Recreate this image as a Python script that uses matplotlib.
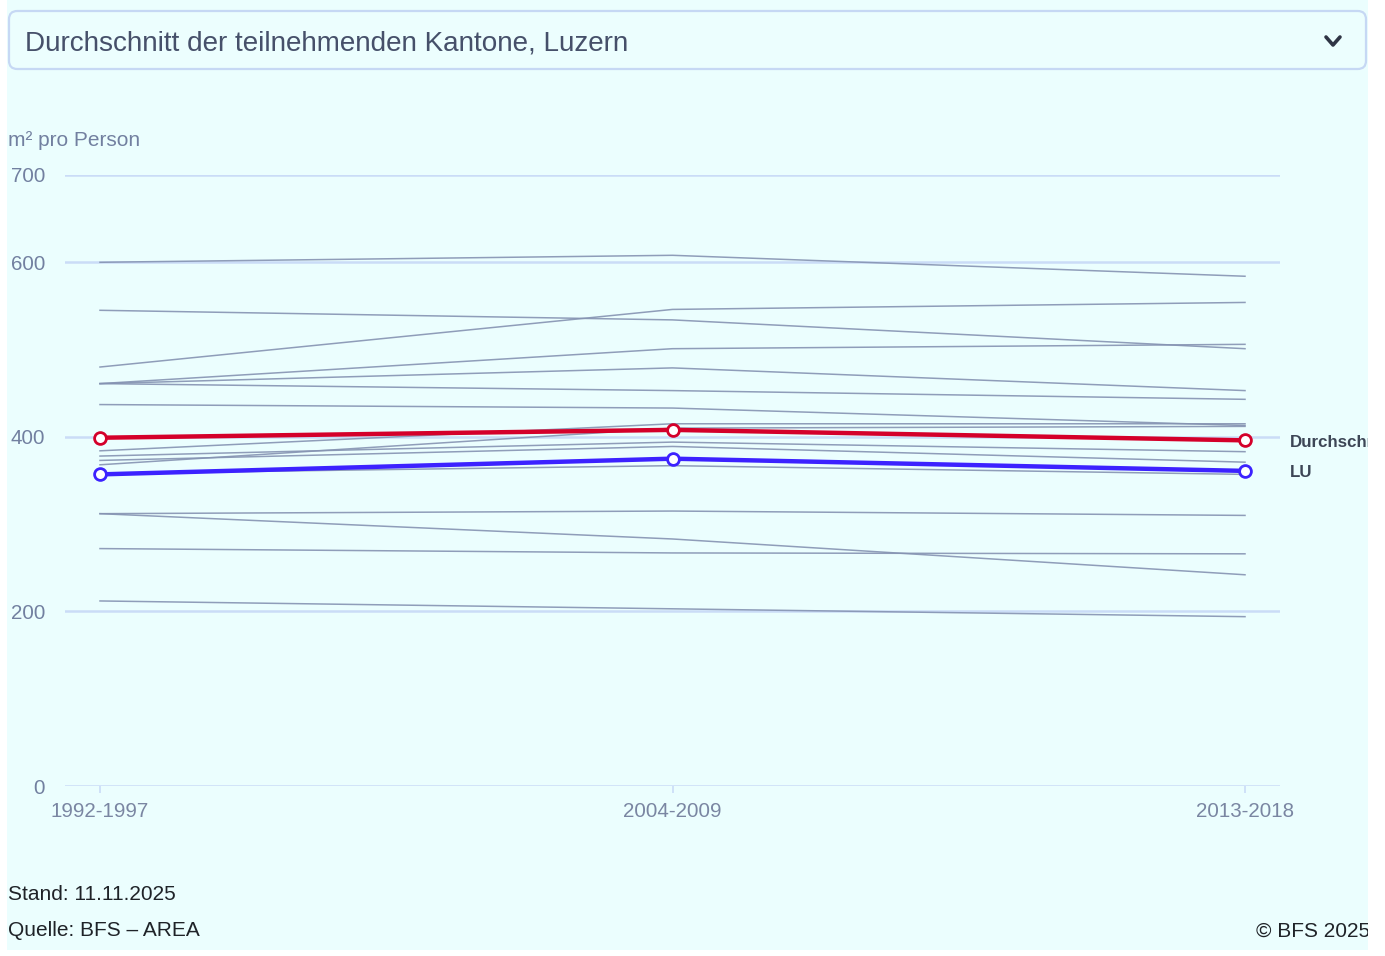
import matplotlib
matplotlib.use("Agg")
import matplotlib.pyplot as plt
from matplotlib.patches import Rectangle, FancyBboxPatch

plt.rcParams['font.family'] = ['Liberation Sans', 'DejaVu Sans']

# ---- data ----
periods = ["1992-1997", "2004-2009", "2013-2018"]
yticks = [0, 200, 400, 600, 700]
cantons = [
    [600, 608, 584],
    [545, 534, 501],
    [480, 546, 554],
    [461, 501, 506],
    [461, 479, 453],
    [461, 453, 443],
    [437, 433, 413],
    [384, 415, 415],
    [368, 410, 412],
    [378, 394, 383],
    [373, 389, 371],
    [358, 367, 357],
    [312, 315, 310],
    [312, 283, 242],
    [272, 267, 266],
    [212, 203, 194],
]
avg_values = [399, 408, 396]
lu_values = [357, 375, 361]
avg_label = "Durchschnitt"
lu_label = "LU"
title = "Durchschnitt der teilnehmenden Kantone, Luzern"
y_title = "m² pro Person"
stand = "Stand: 11.11.2025"
quelle = "Quelle: BFS – AREA"
copyright_txt = "© BFS 2025"

W, H = 1385, 956
fig = plt.figure(figsize=(W / 100, H / 100), dpi=100, facecolor='white')

def fx(px):
    return px / W

def fy(py):
    return 1 - py / H

PT = 72 / 100  # points per pixel

bg = '#ebfefe'
fig.patches.append(Rectangle((fx(7), fy(950)), fx(1368) - fx(7), fy(0) - fy(950),
                             transform=fig.transFigure, facecolor=bg, edgecolor='none', zorder=-10))
clip_rect = Rectangle((fx(7), fy(950)), fx(1368) - fx(7), fy(0) - fy(950),
                      transform=fig.transFigure, facecolor='none', edgecolor='none')

# dropdown box
box = FancyBboxPatch((fx(9), fy(69)), fx(1366) - fx(9), fy(11) - fy(69),
                     boxstyle="round,pad=0,rounding_size=0.006",
                     transform=fig.transFigure, facecolor='#ecfefe', edgecolor='#c6d8f4',
                     linewidth=1.6, mutation_aspect=W / H)
fig.patches.append(box)
fig.text(fx(25), fy(43), title, fontsize=20.1, color='#46506a', va='center', ha='left')
# chevron
fig.add_artist(plt.Line2D([fx(1326), fx(1333), fx(1340)], [fy(37), fy(45), fy(37)],
                          transform=fig.transFigure, color='#2f3545', linewidth=2.6,
                          solid_capstyle='round', solid_joinstyle='round'))

# axes
ax = fig.add_axes([fx(65), fy(786), fx(1280) - fx(65), fy(175) - fy(786)])
ax.set_facecolor('none')
x = list(range(len(periods)))
ax.set_xlim(-35 / 572.5, 2 + 35 / 572.5)
ax.set_ylim(0, 700)
for s in ax.spines.values():
    s.set_visible(False)
ax.set_yticks(yticks)
ax.set_yticklabels([str(v) for v in yticks])
ax.grid(axis='y', color='#cadcf7', linewidth=1.8)
ax.set_axisbelow(True)
ax.tick_params(axis='y', length=0, pad=20 * PT, labelsize=14.8, labelcolor='#7280a0')
ax.set_xticks(x)
ax.set_xticklabels(periods)
ax.tick_params(axis='x', length=7 * PT, width=1.2, color='#cadcf7', pad=9 * PT,
               labelsize=14.8, labelcolor='#7a86a2')

for vals in cantons:
    ax.plot(x, vals, color='#8593b2', linewidth=1.1, alpha=0.9, zorder=2, clip_on=False)

ax.plot(x, avg_values, color='#d4002a', linewidth=3.2, marker='o', markersize=8.5,
        markerfacecolor='white', markeredgecolor='#d4002a', markeredgewidth=2.0,
        zorder=5, clip_on=False)
ax.plot(x, lu_values, color='#3c22ff', linewidth=3.2, marker='o', markersize=8.5,
        markerfacecolor='white', markeredgecolor='#3c22ff', markeredgewidth=2.0,
        zorder=5, clip_on=False)

for lbl, vals in ((avg_label, avg_values), (lu_label, lu_values)):
    t = ax.annotate(lbl, xy=(x[-1], vals[-1]), xytext=(45 * PT, -2 * PT),
                    textcoords='offset points', va='center', ha='left',
                    fontsize=12.2, fontweight='bold', color='#3d4656',
                    annotation_clip=False)
    t.set_clip_path(clip_rect)
    t.set_clip_on(True)

fig.text(fx(8), fy(140), y_title, fontsize=15, color='#7280a0', va='center', ha='left')
fig.text(fx(8), fy(894), stand, fontsize=15, color='#1f2328', va='center', ha='left')
fig.text(fx(8), fy(931), quelle, fontsize=15, color='#1f2328', va='center', ha='left')
c = fig.text(fx(1256), fy(931), copyright_txt, fontsize=15, color='#1f2328', va='center', ha='left')
c.set_clip_path(clip_rect)
c.set_clip_on(True)

fig.savefig('out.png', dpi=100, facecolor='white')
